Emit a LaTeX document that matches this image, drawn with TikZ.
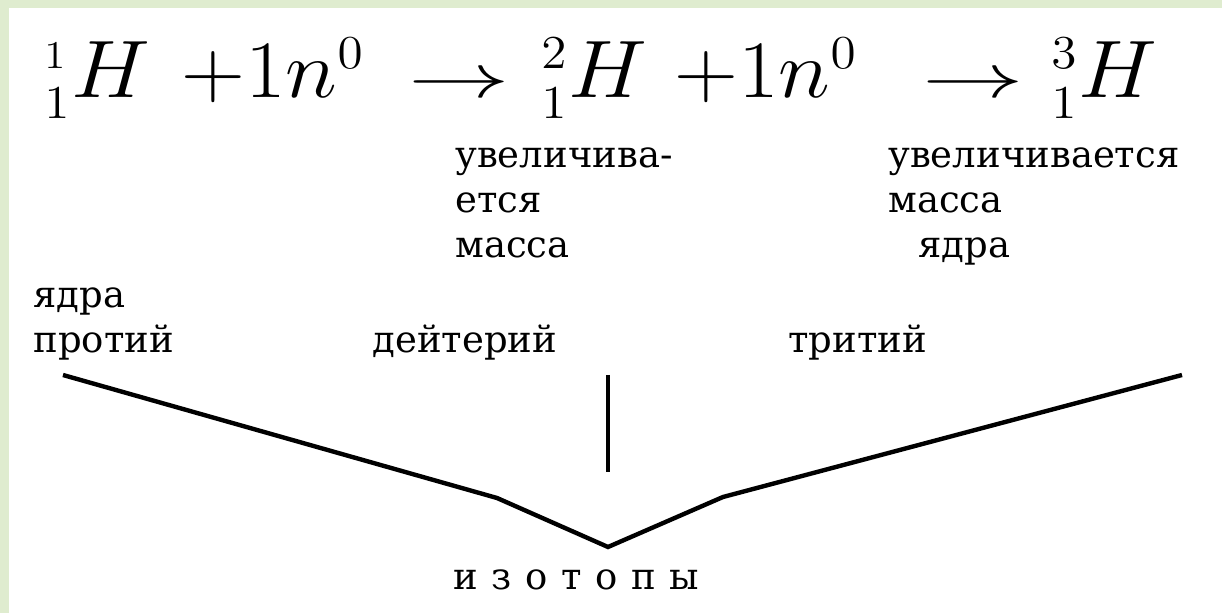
\documentclass[tikz,border=0pt]{standalone}
\usepackage[no-math]{fontspec}
\setmainfont{DejaVu Serif}
\usepackage{amsmath}
\usetikzlibrary{positioning}
\definecolor{bandgreen}{RGB}{223,236,207}
\DeclareMathSizes{24.88}{24.88}{14.4}{12}
\newcommand{\bigeq}[1]{\scalebox{1.78}[1.64]{$#1$}}

\begin{document}
\begin{tikzpicture}[
      x=0.5pt, y=-0.5pt,
      formula/.style={anchor=base west, inner sep=0pt, font=\fontsize{24.88}{26}\selectfont},
      note/.style={anchor=base west, inner sep=0pt, align=left, font=\fontsize{18.5}{22.5}\selectfont},
      branch/.style={line width=2.2pt, black}
    ]
    % page and green band
    \useasboundingbox (0,0) rectangle (1222,613);
    \fill[white] (0,0) rectangle (1222,613);
    \fill[bandgreen] (0,0) rectangle (1222,8);
    \fill[bandgreen] (0,0) rectangle (9,613);

    % reaction
    \node[formula] (hyd) at (44,98) {\bigeq{{}^{\scriptscriptstyle 1}_{1}H}};
    \node[formula] (adda) at (181,98) {\bigeq{+1n^{0}}};
    \node[formula] (arrowa) at (408,98) {\scalebox{2.04}[1.25]{$\rightarrow$}};
    \node[formula] (deut) at (541,98) {\bigeq{{}^{2}_{1}H}};
    \node[formula] (addb) at (674,98) {\bigeq{+1n^{0}}};
    \node[formula] (arrowb) at (922,98) {\scalebox{2.04}[1.25]{$\rightarrow$}};
    \node[formula] (trit) at (1051,98) {\bigeq{{}^{3}_{1}H}};

    % notes (base = last line)
    \node[note] (growa) at (455,258) {увеличива-\\ется\\масса};
    \node[note] (growb) at (888,258) {увеличивается\\масса\\\hspace*{15pt}ядра};
    \node[note] (protium) at (33,353) {ядра\\протий};
    \node[note] (deuterium) at (372,353) {дейтерий};
    \node[note] (tritium) at (788,353) {тритий};
    \node[note] (isotopes) at (453,590) {\spaceskip=6.8pt и з о т о п ы};

    % branches
    \coordinate (protend) at (63,375);
    \coordinate (lkink) at (497,498);
    \coordinate (apex) at (608,547);
    \coordinate (rkink) at (723,497);
    \coordinate (tritend) at (1182,375);
    \coordinate (deuttop) at (608,375);
    \coordinate (deutfoot) at (608,472);
    \draw[branch] (protend) -- (lkink) -- (apex) -- (rkink) -- (tritend);
    \draw[branch] (deuttop) -- (deutfoot);
  \end{tikzpicture}
\end{document}
